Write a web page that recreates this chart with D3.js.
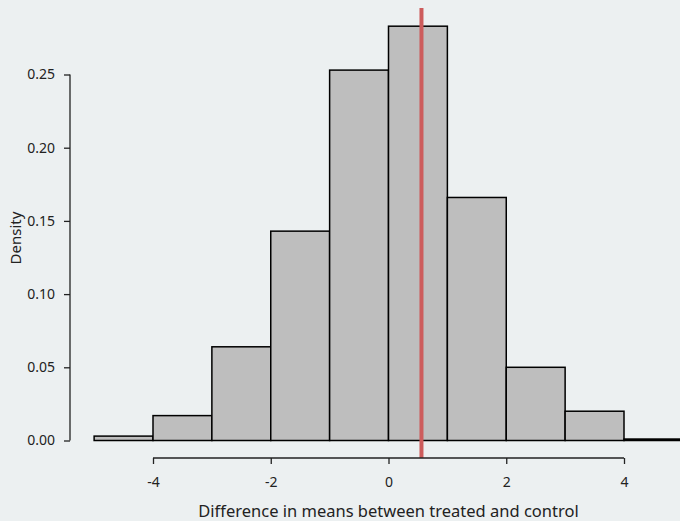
<!DOCTYPE html>
<html>
<head>
<meta charset="utf-8">
<script src="https://cdn.jsdelivr.net/npm/d3@7"></script>
<style>
  html, body { margin: 0; padding: 0; background: #ECF0F1; }
  svg { display: block; font-family: "Noto Sans", "Open Sans", sans-serif; }
</style>
</head>
<body>
<svg id="chart"></svg>
<script>
// histogram bins (left edges) and densities
var binStarts = [-5, -4, -3, -2, -1, 0, 1, 2, 3, 4];
var binWidth = 1;
var densities = [0.003, 0.017, 0.064, 0.143, 0.253, 0.283, 0.166, 0.050, 0.020, 0.001];
var xTicks = [-4, -2, 0, 2, 4];
var yTicks = [0, 0.05, 0.10, 0.15, 0.20, 0.25];
var observedDiff = 0.56;

var width = 680, height = 521;

var svg = d3.select("#chart")
  .attr("width", width)
  .attr("height", height);

var x = d3.scaleLinear().domain([-4, 4]).range([153, 624]);
var y = d3.scaleLinear().domain([0, 0.25]).range([440.5, 74.5]);

var bins = binStarts.map(function (s, i) {
  return { x0: s, x1: s + binWidth, d: densities[i] };
});

// bars
svg.append("g")
  .selectAll("rect")
  .data(bins)
  .enter().append("rect")
  .attr("x", function (d) { return x(d.x0); })
  .attr("y", function (d) { return y(d.d); })
  .attr("width", function (d) { return x(d.x1) - x(d.x0); })
  .attr("height", function (d) { return y(0) - y(d.d); })
  .attr("fill", "#BEBEBE")
  .attr("stroke", "#000")
  .attr("stroke-width", 1.5);

// observed difference line
svg.append("line")
  .attr("x1", x(observedDiff)).attr("x2", x(observedDiff))
  .attr("y1", 8).attr("y2", 458)
  .attr("stroke", "#CD5C5C")
  .attr("stroke-width", 4);

// y axis
var yAxis = svg.append("g")
  .attr("transform", "translate(70,0)")
  .call(d3.axisLeft(y).tickValues(yTicks).tickFormat(function (d) { return d.toFixed(2); }).tickSize(6).tickPadding(9));

// x axis (plain hyphen for negatives, like R)
var xAxis = svg.append("g")
  .attr("transform", "translate(0,458)")
  .call(d3.axisBottom(x).tickValues(xTicks).tickFormat(function (d) { return String(d); }).tickSize(6).tickPadding(13));

[yAxis, xAxis].forEach(function (g) {
  g.select(".domain").attr("stroke", "#222").attr("stroke-width", 1.3);
  g.selectAll(".tick line").attr("stroke", "#222").attr("stroke-width", 1.3);
  g.selectAll(".tick text").attr("fill", "#222").style("font-size", "14px").style("font-family", "Noto Sans, sans-serif");
});
xAxis.select(".domain").attr("d", "M" + x(-4) + ",0H" + x(4));
yAxis.select(".domain").attr("d", "M0," + y(0) + "V" + y(0.25));

// axis titles
svg.append("text")
  .attr("x", x(0))
  .attr("y", 517)
  .attr("text-anchor", "middle")
  .attr("fill", "#222")
  .style("font-size", "16.5px")
  .text("Difference in means between treated and control");

svg.append("text")
  .attr("transform", "translate(21,238) rotate(-90)")
  .attr("text-anchor", "middle")
  .attr("fill", "#222")
  .style("font-size", "15px")
  .text("Density");
</script>
</body>
</html>
